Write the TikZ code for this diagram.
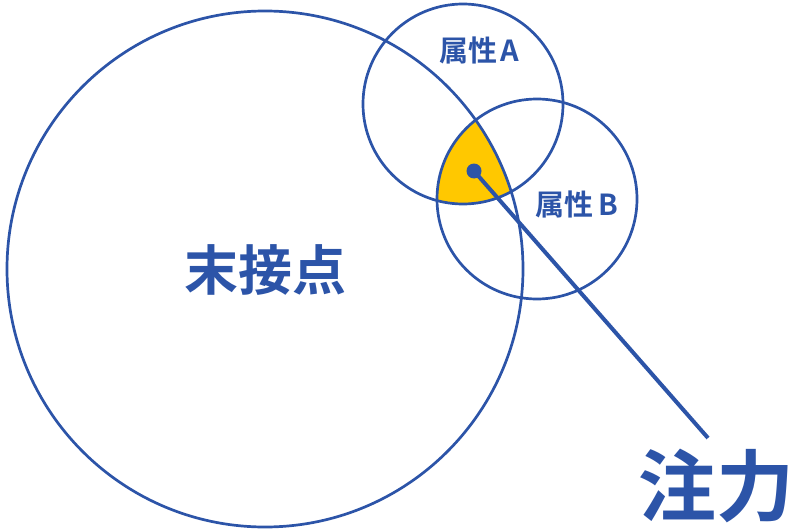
\documentclass[tikz,border=0pt]{standalone}
\usepackage{fontspec}
\newfontfamily\cjk{Noto Sans CJK JP}[BoldFont={Noto Sans CJK JP Bold}]
\definecolor{myblue}{RGB}{44,84,168}
\definecolor{myyellow}{RGB}{255,200,0}
\tikzset{
  ring/.style={circle, draw=myblue, line width=2.7pt, inner sep=0pt},
  lbl/.style={text=myblue, font=\cjk\bfseries, inner sep=0pt},
  dotnode/.style={circle, fill=myblue, inner sep=0pt, minimum size=15pt},
}
\begin{document}
\begin{tikzpicture}[x=1pt,y=-1pt]
\useasboundingbox (0,0) rectangle (800,532);
% yellow intersection
\begin{scope}
  \clip (265,269) circle[radius=258pt];
  \clip (463,104) circle[radius=100pt];
  \fill[myyellow] (537,199) circle[radius=100pt];
\end{scope}
\node[ring, minimum size=516pt] (big) at (265,269) {};
\node[ring, minimum size=200pt] (ca) at (463,104) {};
\node[ring, minimum size=200pt] (cb) at (537,199) {};
\node[lbl, font=\cjk\bfseries\fontsize{29}{32}\selectfont] (la) at (479,50) {属性\kern3pt A};
\node[lbl, font=\cjk\bfseries\fontsize{29}{32}\selectfont] (lb) at (577,204) {属性\kern5pt B};
\node[lbl, font=\cjk\bfseries\fontsize{54}{60}\selectfont] (lm) at (265,270) {末接点};
\node[lbl, font=\cjk\bfseries\fontsize{78}{84}\selectfont] (lc) at (716,486) {注力};
\node[dotnode] (dot) at (474,171) {};
\coordinate (lend) at (708,438);
\draw[myblue, line width=4pt] (dot.center) -- (lend);
\end{tikzpicture}
\end{document}
